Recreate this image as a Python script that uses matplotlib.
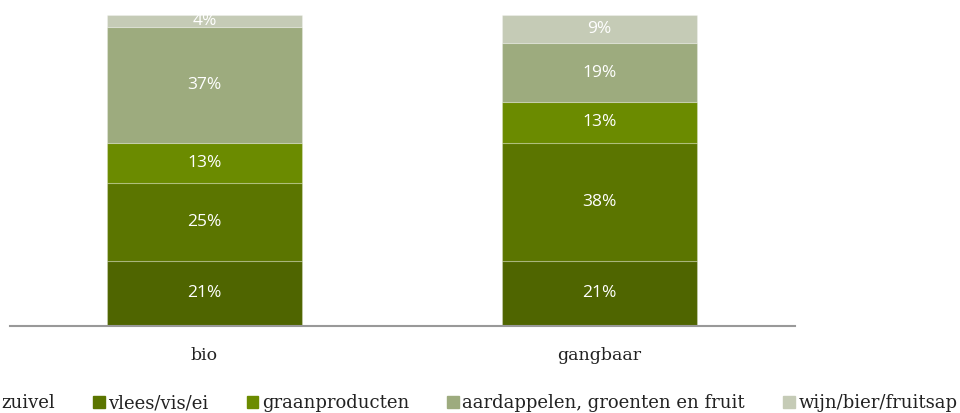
import numpy as np
import matplotlib.pyplot as plt
from matplotlib.patches import Patch

groups = ["bio", "gangbaar"]
categories = ["zuivel", "vlees/vis/ei", "graanproducten",
              "aardappelen, groenten en fruit", "wijn/bier/fruitsap"]
colors = ["#4f6500", "#5b7500", "#6b8b00", "#9dab7e", "#c5cbb6"]
bio = [21, 25, 13, 37, 4]
gangbaar = [21, 38, 13, 19, 9]

values = np.array([bio, gangbaar]).T  # rows = categories

fig = plt.figure(figsize=(9.6, 4.13), dpi=100)
ax = fig.add_axes([10/960, 87/413, 785/960, 311/413])

x = np.arange(len(groups))
bottom = np.zeros(len(groups))
for i, cat in enumerate(categories):
    ax.bar(x, values[i], 0.494, bottom=bottom, color=colors[i],
           edgecolor=(1, 1, 1, 0.25), linewidth=0.8, label=cat)
    for j in range(len(groups)):
        ax.text(x[j], bottom[j] + values[i][j] / 2, "%d%%" % values[i][j],
                ha="center", va="center", color="white", fontsize=12.5,
                family="Open Sans")
    bottom += values[i]

ax.set_xlim(-0.492, 1.495)
ax.set_ylim(0, 100)
ax.set_xticks(x)
ax.set_xticklabels(groups, family="DejaVu Serif", fontsize=12.5, color="#222222")
ax.tick_params(axis="x", length=0, pad=15)
ax.set_yticks([])
for s in ["top", "left", "right"]:
    ax.spines[s].set_visible(False)
ax.spines["bottom"].set_color("#999999")
ax.spines["bottom"].set_linewidth(1.5)

# legend: first marker falls just outside the left edge, as in the original
handles = [Patch(color=c) for c in colors]
fig.legend(handles, categories, loc="center left", bbox_to_anchor=(-14/960, 10/413),
           ncol=5, frameon=False, prop={"family": "DejaVu Serif", "size": 13},
           handlelength=0.65, handleheight=0.65, handletextpad=0.2,
           columnspacing=2.1, borderaxespad=0, borderpad=0, labelcolor="#222222")

fig.savefig("out.png", dpi=100)
